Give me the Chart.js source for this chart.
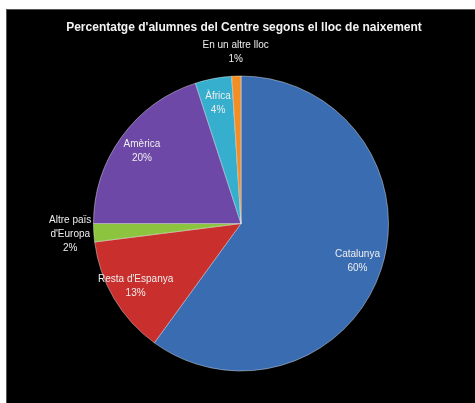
<!DOCTYPE html>
<html>
<head>
<meta charset="utf-8">
<script src="https://cdn.jsdelivr.net/npm/chart.js@4/dist/chart.umd.min.js"></script>
<style>
  html, body { margin: 0; padding: 0; background: #fff; }
  #frame {
    position: absolute; left: 6px; top: 9px; width: 469px; height: 394px;
    background: #000;
    border-left: 1px solid #555; border-top: 1px solid #555;
    box-sizing: border-box;
  }
  #wrap { position: absolute; left: 0; top: 0; width: 468px; height: 393px; }
</style>
</head>
<body>
<div id="frame"><div id="wrap"><canvas id="chart"></canvas></div></div>
<script>
// Percentatge d'alumnes segons el lloc de naixement (pie)
const TITLE = "Percentatge d'alumnes del Centre segons el lloc de naixement";

const LABELS = ['Catalunya', "Resta d'Espanya", "Altre païs d'Europa", 'Amèrica', 'Àfrica', 'En un altre lloc'];
const VALUES = [60, 13, 2, 20, 4, 1];
const LABEL_LINES = [['Catalunya'], ["Resta d'Espanya"], ['Altre païs', "d'Europa"], ['Amèrica'], ['Àfrica'], ['En un altre lloc']];
const COLORS = ['#3a6cb2', '#c9302d', '#8cc43f', '#6e48a6', '#36aece', '#f28e24'];

// ── Title + data labels (name + %) along each slice's mid angle ───────────────
const sliceLabels = {
  id: 'sliceLabels',
  afterDatasetsDraw(chart) {
    const { ctx } = chart;
    const meta = chart.getDatasetMeta(0);
    const total = VALUES.reduce((a, b) => a + b, 0);
    ctx.save();
    ctx.textAlign = 'center';
    ctx.textBaseline = 'middle';

    ctx.fillStyle = '#f2f2f2';
    ctx.font = 'bold 12px "Liberation Sans", Arial, sans-serif';
    ctx.fillText(TITLE, chart.width / 2 + 3, 18);

    ctx.fillStyle = '#eeeeee';
    ctx.font = '10px "Liberation Sans", Arial, sans-serif';
    meta.data.forEach((arc, i) => {
      const { x, y, startAngle, endAngle, outerRadius } = arc.getProps(['x', 'y', 'startAngle', 'endAngle', 'outerRadius'], true);
      const mid = (startAngle + endAngle) / 2;
      const pct = VALUES[i] / total * 100;
      const outside = pct < 3;
      const r = outerRadius * (outside ? 1.16 : 0.83);
      const lines = [...LABEL_LINES[i], Math.round(pct) + '%'];
      const lh = 14;
      const cx = x + Math.cos(mid) * r;
      const cy = y + Math.sin(mid) * r - (lines.length - 1) * lh / 2;
      lines.forEach((t, k) => ctx.fillText(t, cx, cy + k * lh));
    });
    ctx.restore();
  }
};

new Chart(document.getElementById('chart'), {
  type: 'pie',
  data: {
    labels: LABELS,
    datasets: [{
      data: VALUES,
      backgroundColor: COLORS,
      borderColor: 'rgba(255,255,255,0.4)',
      borderWidth: 1
    }]
  },
  options: {
    responsive: true,
    maintainAspectRatio: false,
    animation: false,
    layout: { padding: { top: 65, bottom: 31, left: 86, right: 86 } },
    plugins: {
      legend: { display: false },
      tooltip: { enabled: false },
      title: { display: false }
    }
  },
  plugins: [sliceLabels]
});
</script>
</body>
</html>
